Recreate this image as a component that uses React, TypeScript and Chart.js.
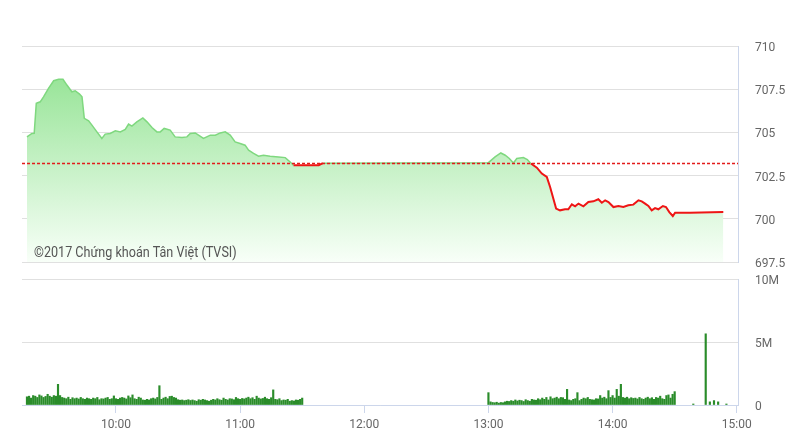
import React, { useEffect, useRef } from "react";
import { Chart, registerables } from "chart.js";
Chart.register(...registerables);

// ---- data ----
const REF_PRICE = 703.2;
const X_MIN = 554.6; // minutes since midnight (~09:15)
const X_MAX = 900.6; // ~15:00

const priceTimes = [
  557.0, 559.4, 560.5, 561.5, 563.4, 565.0, 567.4, 569.9, 572.3, 574.4,
  576.3, 578.7, 580.3, 582.4, 583.6, 584.7, 586.8, 588.4, 590.8, 593.2,
  594.8, 597.2, 599.7, 602.1, 604.5, 606.1, 607.7, 610.1, 613.0, 615.0,
  617.4, 619.8, 621.4, 623.3, 626.2, 628.6, 631.9, 634.3, 635.9, 638.3,
  639.9, 642.3, 645.6, 648.0, 650.4, 652.8, 655.2, 657.6, 660.0, 662.4,
  664.1, 666.5, 668.9, 671.3, 674.5, 678.6, 681.8, 684.2, 685.8, 698.0,
  700.0, 780.0, 783.2, 786.0, 788.1, 790.1, 792.1, 793.7, 796.9, 798.8,
  800.5, 803.4, 805.8, 808.2, 809.8, 812.7, 814.6, 817.0, 818.6, 820.3,
  821.9, 823.5, 825.9, 828.3, 830.7, 833.1, 834.8, 836.4, 838.0, 840.4,
  842.8, 845.2, 847.6, 850.0, 852.5, 854.1, 855.7, 857.3, 858.9, 860.5,
  862.1, 864.3, 865.8, 867.4, 869.1, 870.2, 877.4, 893.5,
];
const priceValues = [
  704.74, 704.94, 704.95, 706.68, 706.77, 707.06, 707.55, 707.99, 708.07, 708.07,
  707.74, 707.35, 707.41, 707.22, 707.06, 705.81, 705.67, 705.42, 705.03, 704.65,
  704.90, 704.94, 705.09, 705.03, 705.17, 705.48, 705.36, 705.61, 705.84, 705.61,
  705.28, 705.03, 705.03, 705.23, 705.13, 704.74, 704.70, 704.74, 704.94, 704.97,
  704.84, 704.65, 704.84, 704.84, 704.97, 705.03, 704.84, 704.45, 704.36, 704.26,
  703.97, 703.78, 703.62, 703.68, 703.62, 703.58, 703.54, 703.29, 703.10, 703.10,
  703.22, 703.25, 703.58, 703.81, 703.68, 703.49, 703.23, 703.49, 703.54, 703.43,
  703.20, 702.96, 702.62, 702.42, 701.84, 700.59, 700.49, 700.55, 700.55, 700.84,
  700.72, 700.88, 700.72, 700.97, 701.01, 701.13, 700.93, 701.07, 700.97, 700.68,
  700.74, 700.68, 700.78, 700.82, 701.07, 701.01, 700.88, 700.74, 700.49, 700.62,
  700.55, 700.74, 700.68, 700.39, 700.16, 700.35, 700.35, 700.39,
];

// volumes in millions, one bar per minute
const morningStart = 557; // 09:17
const morningVolumes = [
  0.65, 0.7, 0.55, 0.75, 0.7, 0.6, 0.8, 0.72, 0.6, 0.68, 0.85, 0.7, 0.62, 0.75, 0.7,
  1.64,
  0.75, 0.6, 0.55, 0.5, 0.62, 0.45, 0.58, 0.5, 0.55, 0.48, 0.6, 0.5, 0.45, 0.55, 0.5,
  0.45, 0.55, 0.5, 0.6, 0.42, 0.5, 0.48, 0.55, 0.6, 0.45, 0.5, 0.72, 0.5, 0.45, 0.55,
  0.6, 0.55, 0.48, 0.72, 0.58, 0.8, 0.5, 0.45, 0.62, 0.55, 0.4, 0.38, 0.45, 0.4, 0.5, 0.55, 0.48, 0.6,
  1.53,
  0.45, 0.55, 0.62, 0.5, 0.68, 0.7, 0.6, 0.55, 0.42, 0.38, 0.4, 0.35, 0.38, 0.42, 0.36,
  0.4, 0.35, 0.3, 0.42, 0.38, 0.45, 0.4, 0.35, 0.3, 0.38, 0.45, 0.4, 0.5, 0.42, 0.38, 0.55, 0.45, 0.4, 0.5, 0.48,
  0.42, 0.6, 0.5, 0.45, 0.52, 0.48, 0.55, 0.62, 0.5, 0.58, 0.45, 0.7, 0.55, 0.48, 0.52, 0.62, 0.5, 0.45, 0.58,
  1.2,
  0.45, 0.42, 0.5, 0.35, 0.4, 0.38, 0.45, 0.3, 0.35, 0.32, 0.4, 0.38, 0.45, 0.55,
];
const afternoonStart = 780; // 13:00
const afternoonVolumes = [
  0.98,
  0.25, 0.2, 0.18, 0.22, 0.15, 0.2, 0.18, 0.25, 0.3, 0.28,
  0.35, 0.3, 0.4, 0.32, 0.38, 0.35, 0.28, 0.42, 0.35, 0.3,
  0.45, 0.4, 0.38, 0.5, 0.42, 0.55, 0.45, 0.6, 0.4, 0.65,
  0.5, 0.55, 0.62, 0.5, 0.6, 0.58, 0.45,
  1.24,
  0.4, 0.35, 0.45, 0.5,
  0.98,
  0.35, 0.45, 0.55, 0.5, 0.6, 0.45, 0.42, 0.4, 0.5, 0.48,
  0.75,
  0.55, 0.62, 0.5,
  1.14,
  0.6, 0.75, 0.55,
  1.24,
  0.7,
  1.64,
  0.6, 0.55, 0.62, 0.5, 0.58, 0.52, 0.55, 0.48, 0.6, 0.5, 0.45, 0.55, 0.62, 0.5, 0.58, 0.45, 0.6, 0.55, 0.7, 0.5, 0.45, 0.75, 0.8, 0.55, 0.85,
  1.06,
];
const closingTimes = [879, 885, 887, 889, 891, 895];
const closingVolumes = [0.08, 5.65, 0.25, 0.35, 0.25, 0.08];

const xTickMinutes = [600, 660, 720, 780, 840, 900];
const priceTicks = [697.5, 700, 702.5, 705, 707.5, 710];
const volumeTicks = [0, 5, 10];
const volumeTickLabels = ["0", "5M", "10M"];
const copyrightText = "©2017 Chứng khoán Tân Việt (TVSI)";

// ---- styles ----
const FONT = { family: "Roboto, 'Open Sans', sans-serif", size: 12 };
const LABEL = "#666666";
const GRID = "#e0e0e0";
const AXIS = "#ccd6eb";
const GREEN_LINE = "#7fd87f";
const RED_LINE = "#ee1515";

const fmtTime = (m: number) => {
  const h = Math.floor(m / 60);
  const mm = Math.round(m - h * 60);
  return `${h}:${String(mm).padStart(2, "0")}`;
};

const rightAxisGrid = {
  color: GRID,
  drawTicks: true,
  tickLength: 17,
  tickColor: "rgba(0,0,0,0)",
};

export default function App() {
  const topRef = useRef<HTMLCanvasElement>(null);
  const botRef = useRef<HTMLCanvasElement>(null);

  useEffect(() => {
    const priceData = priceTimes.map((t, i) => ({ x: t, y: priceValues[i] }));
    const volData: { x: number; y: number }[] = [];
    morningVolumes.forEach((v, i) => volData.push({ x: morningStart + i, y: v }));
    afternoonVolumes.forEach((v, i) => volData.push({ x: afternoonStart + i, y: v }));
    closingVolumes.forEach((v, i) => volData.push({ x: closingTimes[i], y: v }));

    const isBelow = (c: any) => Math.max(c.p0.parsed.y, c.p1.parsed.y) <= REF_PRICE + 0.025;

    const top = new Chart(topRef.current!, {
      type: "line",
      data: {
        datasets: [
          {
            label: "ref",
            data: [
              { x: X_MIN, y: REF_PRICE },
              { x: X_MAX, y: REF_PRICE },
            ],
            borderColor: "#e31b1b",
            borderWidth: 1.5,
            borderDash: [3, 2],
            pointRadius: 0,
            fill: false,
            order: 0,
          },
          {
            label: "price",
            data: priceData,
            borderColor: GREEN_LINE,
            borderWidth: 1.5,
            pointRadius: 0,
            tension: 0,
            fill: false,
            order: 1,
            segment: {
              borderColor: (c: any) => (isBelow(c) ? RED_LINE : GREEN_LINE),
              borderWidth: (c: any) => (isBelow(c) ? 2 : 1.5),
            },
          } as any,
          {
            label: "area",
            data: priceData,
            borderWidth: 0,
            borderColor: "rgba(0,0,0,0)",
            pointRadius: 0,
            tension: 0,
            fill: "start",
            order: 2,
            backgroundColor: (ctx: any) => {
              const { chart } = ctx;
              const area = chart.chartArea;
              if (!area) return "rgba(144,227,144,0.5)";
              const g = chart.ctx.createLinearGradient(0, area.top, 0, area.bottom);
              g.addColorStop(0, "rgba(136,224,136,1)");
              g.addColorStop(1, "rgba(248,255,248,1)");
              return g;
            },
          } as any,
        ],
      },
      options: {
        responsive: false,
        animation: false,
        devicePixelRatio: 1,
        layout: { padding: { left: 22, top: 46, right: 0, bottom: 10 } },
        plugins: { legend: { display: false }, tooltip: { enabled: false } },
        scales: {
          x: { type: "linear", min: X_MIN, max: X_MAX, display: false },
          y: {
            position: "right",
            min: 697.5,
            max: 710,
            afterBuildTicks: (s: any) => {
              s.ticks = priceTicks.map((v) => ({ value: v }));
            },
            afterFit: (s: any) => {
              s.width = 62;
            },
            grid: rightAxisGrid,
            border: { display: true, color: AXIS },
            ticks: {
              padding: 0,
              labelOffset: 2,
              color: LABEL,
              font: FONT,
              callback: (v: any) => String(v),
            },
          },
        },
      } as any,
    });

    const bot = new Chart(botRef.current!, {
      type: "bar",
      data: {
        datasets: [
          {
            data: volData,
            backgroundColor: "#2a8c2a",
            barThickness: 1.5,
          } as any,
        ],
      },
      options: {
        responsive: false,
        animation: false,
        devicePixelRatio: 1,
        layout: { padding: { left: 22, top: 9, right: 0, bottom: 0 } },
        plugins: { legend: { display: false }, tooltip: { enabled: false } },
        scales: {
          x: {
            type: "linear",
            min: X_MIN,
            max: X_MAX,
            offset: false,
            afterBuildTicks: (s: any) => {
              s.ticks = xTickMinutes.map((v) => ({ value: v }));
            },
            afterFit: (s: any) => {
              s.height = 29;
            },
            grid: { drawOnChartArea: false, drawTicks: true, tickLength: 8, color: AXIS, offset: false },
            border: { display: true, color: AXIS },
            ticks: {
              padding: 5,
              color: LABEL,
              font: FONT,
              autoSkip: false,
              maxRotation: 0,
              callback: (v: any) => fmtTime(Number(v)),
            },
          },
          y: {
            position: "right",
            min: 0,
            max: 10,
            afterBuildTicks: (s: any) => {
              s.ticks = volumeTicks.map((v) => ({ value: v }));
            },
            afterFit: (s: any) => {
              s.width = 62;
            },
            grid: rightAxisGrid,
            border: { display: true, color: AXIS },
            ticks: {
              padding: 0,
              labelOffset: 2,
              color: LABEL,
              font: FONT,
              callback: (v: any) => volumeTickLabels[volumeTicks.indexOf(Number(v))] ?? "",
            },
          },
        },
      } as any,
    });

    return () => {
      top.destroy();
      bot.destroy();
    };
  }, []);

  return (
    <div
      style={{
        position: "absolute",
        left: 0,
        top: 0,
        width: 800,
        height: 434,
        background: "#ffffff",
        overflow: "hidden",
      }}
    >
      <canvas
        ref={topRef}
        width={800}
        height={272}
        style={{ position: "absolute", left: 0, top: 0, width: 800, height: 272, display: "block" }}
      />
      <canvas
        ref={botRef}
        width={800}
        height={164}
        style={{ position: "absolute", left: 0, top: 270, width: 800, height: 164, display: "block" }}
      />
      <div
        style={{
          position: "absolute",
          left: 34,
          top: 243,
          fontFamily: "Roboto, 'Open Sans', sans-serif",
          fontSize: 14,
          color: "#555555",
          whiteSpace: "nowrap",
          lineHeight: "18px",
          transform: "scaleX(0.9)",
          transformOrigin: "0 0",
        }}
      >
        {copyrightText}
      </div>
    </div>
  );
}
